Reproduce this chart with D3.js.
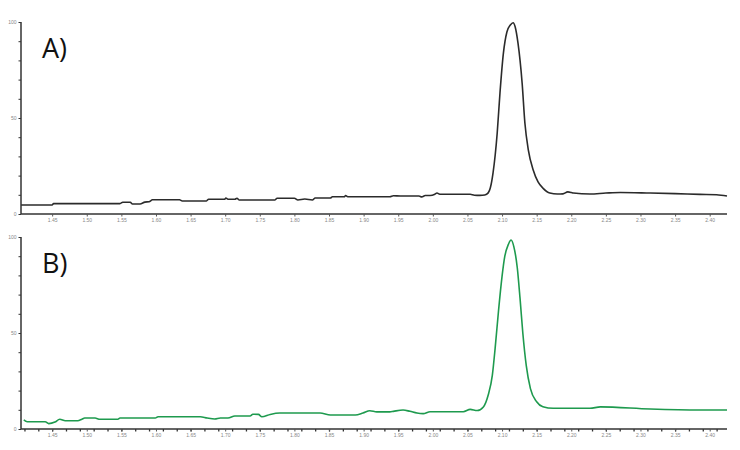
<!DOCTYPE html>
<html>
<head>
<meta charset="utf-8">
<script src="https://cdn.jsdelivr.net/npm/d3@7"></script>
<style>
  body { margin: 0; background: #fff; }
  svg { display: block; }
</style>
</head>
<body>
<svg id="chart"></svg>
<script>
// Chromatogram A (time in min, relative intensity %)
const timeA = [1.405, 1.450, 1.452, 1.548, 1.552, 1.563, 1.566, 1.577, 1.584, 1.590, 1.595, 1.634, 1.638, 1.673,
  1.676, 1.699, 1.701, 1.704, 1.714, 1.717, 1.720, 1.772, 1.775, 1.800, 1.805, 1.815, 1.826, 1.830, 1.852, 1.855,
  1.872, 1.874, 1.877, 1.938, 1.943, 1.953, 1.980, 1.984, 1.989, 1.996, 2.003, 2.006, 2.010, 2.054, 2.060, 2.068,
  2.075, 2.080, 2.083, 2.087, 2.093, 2.097, 2.102, 2.107, 2.112, 2.116, 2.119, 2.123, 2.129, 2.133, 2.138, 2.145,
  2.152, 2.159, 2.169, 2.180, 2.188, 2.195, 2.200, 2.203, 2.227, 2.250, 2.271, 2.314, 2.350, 2.386, 2.410, 2.425];
const intensityA = [4.7, 4.7, 5.4, 5.4, 6.1, 6.1, 5.2, 5.2, 6.2, 6.4, 7.4, 7.4, 6.8, 6.8,
  7.7, 7.7, 8.3, 7.7, 7.7, 8.2, 7.3, 7.3, 8.2, 8.2, 7.3, 7.8, 7.3, 8.3, 8.3, 9.0,
  9.0, 9.6, 9.0, 9.0, 9.5, 9.4, 9.4, 8.9, 9.6, 9.6, 10.3, 10.9, 10.3, 10.3, 9.8, 9.7,
  9.9, 11.0, 13.5, 21.4, 42.2, 63.0, 83.9, 94.8, 98.4, 99.6, 97.4, 89.1, 68.2, 47.4, 33.3, 22.9,
  16.7, 13.5, 10.9, 10.4, 10.5, 11.5, 11.2, 10.9, 10.4, 10.9, 11.2, 10.9, 10.6, 10.2, 10.0, 9.4];

// Chromatogram B
const timeB = [1.409, 1.414, 1.440, 1.445, 1.454, 1.461, 1.469, 1.487, 1.493, 1.497, 1.512, 1.519, 1.545, 1.548,
  1.599, 1.603, 1.664, 1.674, 1.685, 1.693, 1.704, 1.714, 1.736, 1.740, 1.748, 1.753, 1.765, 1.779, 1.837, 1.852,
  1.888, 1.899, 1.909, 1.919, 1.938, 1.943, 1.957, 1.967, 1.977, 1.986, 1.996, 2.044, 2.054, 2.064, 2.073, 2.080,
  2.086, 2.090, 2.095, 2.100, 2.104, 2.109, 2.113, 2.117, 2.122, 2.126, 2.130, 2.135, 2.141, 2.150, 2.159, 2.174,
  2.227, 2.242, 2.314, 2.386, 2.425];
const intensityB = [4.7, 3.8, 3.8, 2.8, 3.6, 5.1, 4.3, 4.3, 5.1, 5.7, 5.7, 5.1, 5.1, 5.7,
  5.7, 6.4, 6.4, 5.7, 5.2, 5.7, 5.7, 6.8, 6.8, 7.7, 7.6, 6.4, 7.6, 8.3, 8.3, 7.3,
  7.3, 8.3, 9.5, 8.9, 8.9, 9.2, 9.9, 9.2, 8.3, 8.0, 9.0, 9.0, 10.2, 9.6, 11.5, 17.7,
  28.1, 42.0, 62.0, 79.5, 90.0, 96.0, 98.4, 95.0, 84.0, 68.0, 50.0, 33.0, 21.0, 14.2, 11.6, 10.8,
  10.8, 11.5, 10.4, 9.9, 9.9];

const xTickLabels = ["1.45", "1.50", "1.55", "1.60", "1.65", "1.70", "1.75", "1.80", "1.85", "1.90",
  "1.95", "2.00", "2.05", "2.10", "2.15", "2.20", "2.25", "2.30", "2.35", "2.40"];
const yTickLabels = ["0", "50", "100"];

const width = 740, height = 450;
const svg = d3.select("#chart").attr("width", width).attr("height", height);

const x = d3.scaleLinear().domain([1.405, 2.425]).range([21, 727]);

function drawPanel(times, values, color, yBottom, yTop, label, minorTicks) {
  const y = d3.scaleLinear().domain([0, 100]).range([yBottom, yTop]);
  const data = times.map((t, i) => ({ t: t, v: values[i] }));
  const g = svg.append("g");

  // trace
  g.append("path")
    .datum(data)
    .attr("fill", "none")
    .attr("stroke", color)
    .attr("stroke-width", 1.6)
    .attr("stroke-linejoin", "round")
    .attr("d", d3.line().x(d => x(d.t)).y(d => y(d.v)).curve(d3.curveMonotoneX));

  // minor x ticks (only lower panel)
  if (minorTicks) {
    const minor = d3.range(1.41, 2.42, 0.02);
    g.append("g")
      .attr("transform", `translate(0,${yBottom})`)
      .call(d3.axisBottom(x).tickValues(minor).tickSize(2.5).tickFormat(""))
      .call(a => a.select(".domain").remove())
      .call(a => a.selectAll("line").attr("stroke", "#333").attr("stroke-width", 1.3));
  }

  // x axis
  g.append("g")
    .attr("transform", `translate(0,${yBottom})`)
    .call(d3.axisBottom(x).tickValues(xTickLabels.map(Number)).tickSize(2.5).tickPadding(2)
      .tickFormat((d, i) => xTickLabels[i]))
    .call(a => a.select(".domain").attr("stroke", "#333").attr("stroke-width", 1.5)
      .attr("d", `M21,0H727`))
    .call(a => a.selectAll("line").attr("stroke", "#555"))
    .call(a => a.selectAll("text").attr("fill", "#888").style("font-size", "5px")
      .style("font-family", "Liberation Sans, Arial, sans-serif"));

  // y axis
  g.append("g")
    .attr("transform", `translate(21,0)`)
    .call(d3.axisLeft(y).tickValues(d3.range(0, 101, 10)).tickSize(2.5).tickPadding(2)
      .tickFormat(d => yTickLabels.includes(String(d)) ? String(d) : ""))
    .call(a => a.select(".domain").attr("stroke", "#333").attr("stroke-width", 1.5)
      .attr("d", `M0,${yTop}V${yBottom}`))
    .call(a => a.selectAll("line").attr("stroke", "#333"))
    .call(a => a.selectAll("text").attr("fill", "#888").style("font-size", "5px")
      .style("font-family", "Liberation Sans, Arial, sans-serif"));

  // panel label
  g.append("text")
    .attr("x", 42)
    .attr("y", yTop + 36)
    .style("font-family", "Open Sans, sans-serif")
    .style("font-size", "27px")
    .attr("fill", "#111")
    .text(label);
}

drawPanel(timeA, intensityA, "#2b2b2b", 214, 22, "A)", false);
drawPanel(timeB, intensityB, "#1e9a4e", 429, 237, "B)", true);
</script>
</body>
</html>
